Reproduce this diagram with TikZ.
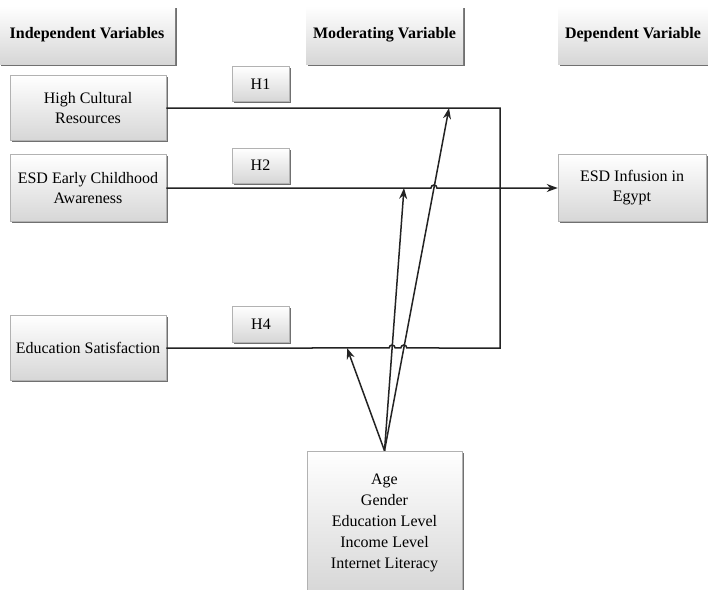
\documentclass[tikz,border=0pt]{standalone}
\usepackage{fontspec}
\setmainfont{Liberation Serif}
\usetikzlibrary{arrows.meta,shadows,calc}
\definecolor{linec}{RGB}{35,35,35}
\begin{document}
\begin{tikzpicture}[x=1pt,y=-1pt,
  box/.style={draw=black!30, line width=0.6pt, top color=white, bottom color=black!16,
    minimum width=156pt, minimum height=65pt, align=center, inner sep=2pt,
    font=\fontsize{16}{20}\selectfont,
    drop shadow={shadow xshift=1.6pt, shadow yshift=-1.6pt, fill=black!70, opacity=0.8}},
  hdr/.style={box, draw=none, minimum height=58pt, font=\bfseries\fontsize{16}{20}\selectfont},
  hyp/.style={box, minimum width=57pt, minimum height=35pt},
  conn/.style={draw=linec, line width=1.5pt, line join=miter},
  arr/.style={conn, -{Stealth[length=11pt,width=8pt]}}
]
\useasboundingbox (0,0) rectangle (708,589);
% headers
\node[hdr, minimum width=176pt] (hiv) at (87,35) {Independent Variables};
\node[hdr, minimum width=157pt] (hmv) at (384.5,35) {Moderating Variable};
\node[hdr, minimum width=150pt] (hdv) at (633,35) {Dependent Variable};
% independent variables
\node[box] (hcr) at (88,108) {High Cultural\\Resources};
\node[box, minimum height=67pt] (ece) at (88,188) {ESD Early Childhood\\Awareness};
\node[box] (es) at (88,348) {Education Satisfaction};
% hypotheses
\node[hyp] (h1) at (260.5,84) {H1};
\node[hyp] (h2) at (260.5,165.5) {H2};
\node[hyp, minimum height=36pt] (h4) at (261,324) {H4};
% dependent
\node[box, minimum width=148pt, minimum height=67pt] (esd) at (632,188) {ESD Infusion in\\Egypt};
% moderator
\node[box, minimum width=155pt, minimum height=144pt, font=\fontsize{16}{21}\selectfont] (mod) at (384.5,523)
  {Age\\Gender\\Education Level\\Income Level\\Internet Literacy};
% helper coordinates
\coordinate (rx) at (500,0);
\coordinate (t1) at (347,348);
\coordinate (t2) at (404,188);
\coordinate (t3) at (449,108);
\coordinate (c2a) at (intersection of mod.north--t2 and es.east--t1);
\coordinate (c3a) at (intersection of mod.north--t3 and es.east--t1);
\coordinate (c3b) at (intersection of mod.north--t3 and ece.east--t2);
% H1 / H4 frame
\draw[conn] (hcr.east) -- (hcr.east -| rx) -- (es.east -| rx)
  -- ([xshift=3pt]c3a) arc[start angle=0, end angle=180, radius=3pt]
  -- ([xshift=3pt]c2a) arc[start angle=0, end angle=180, radius=3pt]
  -- (es.east);
% H2 line
\draw[arr] (ece.east) -- ([xshift=-3pt]c3b) arc[start angle=180, end angle=0, radius=3pt] -- (esd.west);
% moderating arrows
\draw[arr] (mod.north) -- (t1);
\draw[arr] (mod.north) -- (t2);
\draw[arr] (mod.north) -- (t3);
\end{tikzpicture}
\end{document}
